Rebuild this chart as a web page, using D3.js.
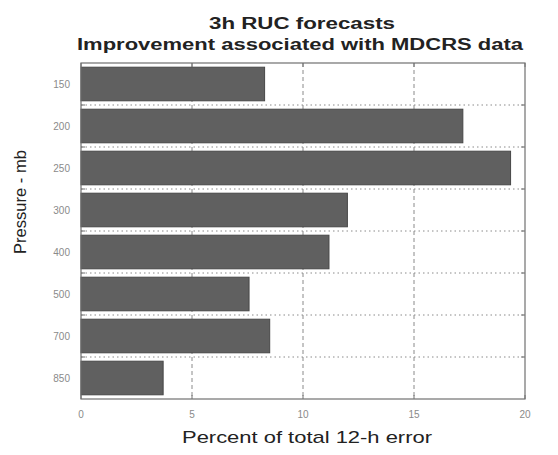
<!DOCTYPE html>
<html>
<head>
<meta charset="utf-8">
<script src="https://cdn.jsdelivr.net/npm/d3@7/dist/d3.min.js"></script>
<style>
  html, body { margin: 0; padding: 0; background: #fff; }
  svg { display: block; font-family: "Liberation Sans", Arial, sans-serif; }
</style>
</head>
<body>
<svg id="chart" width="558" height="455"></svg>
<script>
// Pressure levels (mb) and percent improvement of total 12-h error
const levels = ["150", "200", "250", "300", "400", "500", "700", "850"];
const improvement = [8.27, 17.2, 19.35, 12.0, 11.17, 7.57, 8.5, 3.7];
const xTicks = [0, 5, 10, 15, 20];
const titleLines = ["3h RUC forecasts", "Improvement associated with MDCRS data"];
const xLabel = "Percent of total 12-h error";
const yLabel = "Pressure - mb";

const svg = d3.select("#chart");
const plot = { left: 81, right: 525, top: 63, bottom: 399 };

const x = d3.scaleLinear().domain([0, 20]).range([plot.left, plot.right]);
const y = d3.scaleBand().domain(levels).range([plot.top, plot.bottom]).paddingInner(0.2).paddingOuter(0.1);

// band boundaries (between levels) for horizontal grid and ticks
const bounds = d3.range(1, levels.length).map(i => plot.top + (plot.bottom - plot.top) * i / levels.length);

// vertical grid
svg.append("g").selectAll("line").data(xTicks.slice(1, -1)).join("line")
  .attr("x1", d => x(d)).attr("x2", d => x(d))
  .attr("y1", plot.top).attr("y2", plot.bottom)
  .attr("stroke", "#8a8a8a").attr("stroke-width", 1).attr("stroke-dasharray", "4,3");

// horizontal grid
svg.append("g").selectAll("line").data(bounds).join("line")
  .attr("x1", plot.left).attr("x2", plot.right)
  .attr("y1", d => d).attr("y2", d => d)
  .attr("stroke", "#8a8a8a").attr("stroke-width", 1).attr("stroke-dasharray", "1.5,3");

// bars
svg.append("g").selectAll("rect").data(levels).join("rect")
  .attr("x", x(0))
  .attr("y", d => y(d))
  .attr("width", (d, i) => x(improvement[i]) - x(0))
  .attr("height", y.bandwidth())
  .attr("fill", "#606060")
  .attr("stroke", "#474747").attr("stroke-width", 1);

// frame
svg.append("rect")
  .attr("x", plot.left).attr("y", plot.top)
  .attr("width", plot.right - plot.left).attr("height", plot.bottom - plot.top)
  .attr("fill", "none").attr("stroke", "#707070").attr("stroke-width", 1.2);

// x ticks (bottom and top, inward) and y ticks at level boundaries
const tk = svg.append("g").attr("stroke", "#707070").attr("stroke-width", 1);
xTicks.forEach(t => {
  tk.append("line").attr("x1", x(t)).attr("x2", x(t)).attr("y1", plot.bottom).attr("y2", plot.bottom - 4);
  tk.append("line").attr("x1", x(t)).attr("x2", x(t)).attr("y1", plot.top).attr("y2", plot.top + 4);
});
bounds.forEach(b => {
  tk.append("line").attr("x1", plot.left).attr("x2", plot.left + 4).attr("y1", b).attr("y2", b);
  tk.append("line").attr("x1", plot.right).attr("x2", plot.right - 4).attr("y1", b).attr("y2", b);
});

// x tick labels
svg.append("g").selectAll("text").data(xTicks).join("text")
  .attr("x", d => x(d)).attr("y", 418)
  .attr("text-anchor", "middle")
  .attr("font-size", 10).attr("fill", "#8a8a8a")
  .text(d => d);

// y tick labels
svg.append("g").selectAll("text").data(levels).join("text")
  .attr("x", 70).attr("y", d => y(d) + y.bandwidth() / 2 + 3.5)
  .attr("text-anchor", "end")
  .attr("font-size", 10).attr("fill", "#8a8a8a")
  .text(d => d);

// titles
svg.append("text").attr("x", 302).attr("y", 29).attr("text-anchor", "middle")
  .attr("font-size", 16).attr("font-weight", "bold").attr("fill", "#222")
  .attr("textLength", 186).attr("lengthAdjust", "spacingAndGlyphs")
  .text(titleLines[0]);
svg.append("text").attr("x", 300).attr("y", 50).attr("text-anchor", "middle")
  .attr("font-size", 16).attr("font-weight", "bold").attr("fill", "#222")
  .attr("textLength", 446).attr("lengthAdjust", "spacingAndGlyphs")
  .text(titleLines[1]);

// axis labels
svg.append("text").attr("x", 307).attr("y", 443).attr("text-anchor", "middle")
  .attr("font-size", 17).attr("fill", "#222")
  .attr("textLength", 250).attr("lengthAdjust", "spacingAndGlyphs")
  .text(xLabel);
svg.append("text")
  .attr("transform", "translate(26,202) rotate(-90)")
  .attr("text-anchor", "middle")
  .attr("font-size", 17).attr("fill", "#222")
  .attr("textLength", 104).attr("lengthAdjust", "spacingAndGlyphs")
  .text(yLabel);
</script>
</body>
</html>
